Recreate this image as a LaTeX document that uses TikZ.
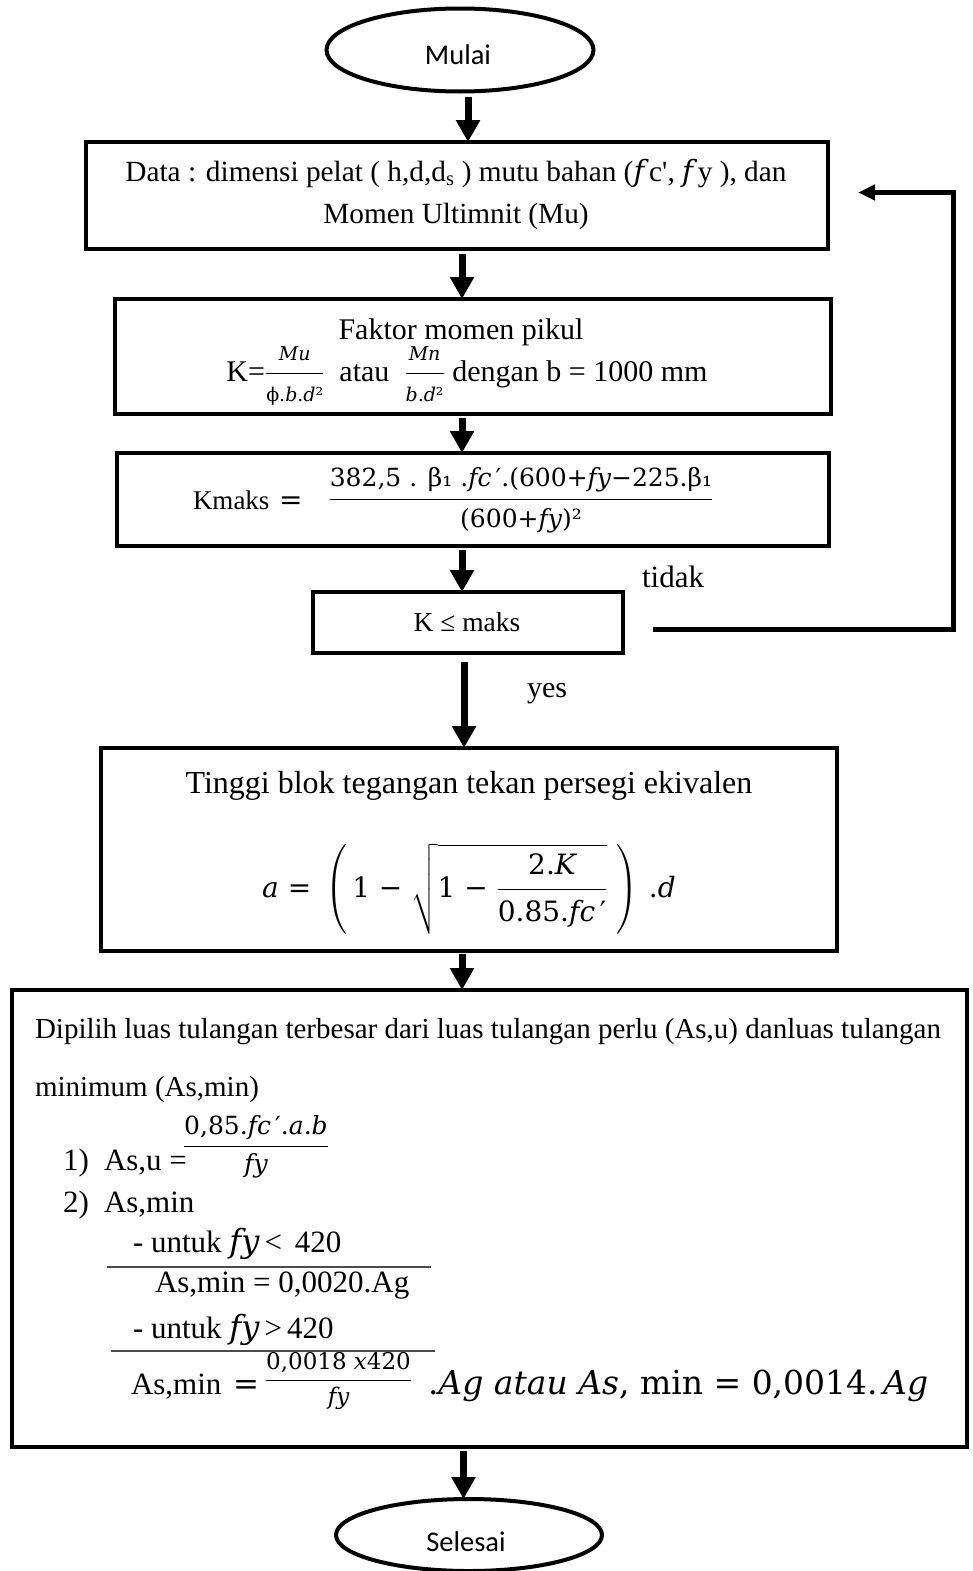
\RequirePackage{fix-cm}
\documentclass[tikz,border=0pt]{standalone}
\usepackage{amsmath}
\usepackage{fontspec}
\setmainfont{Liberation Serif}
\newfontfamily\calib{Carlito}
\newfontfamily\cmb{DejaVu Serif}
\usetikzlibrary{arrows.meta,shapes.geometric,calc}
\newcommand{\fsz}[1]{\fontsize{#1}{#1}\selectfont}
\newcommand{\iv}[1]{{\cmb\itshape #1}}
\newcommand{\hb}[2]{\hbox{\fsz{#1}\cmb #2}}
\begin{document}
\begin{tikzpicture}[x=1pt,y=-1pt,
  every node/.style={inner sep=0pt,outer sep=0pt},
  pbox/.style={draw,line width=4.5pt,rectangle},
  term/.style={draw,ellipse,line width=4pt},
  ttxt/.style={font=\calib\fsz{28.5}},
  flow/.style={line width=7pt,-{Triangle[width=23pt,length=22pt]}},
  back/.style={line width=5pt,-{Triangle[width=15pt,length=17pt]}},
  txt/.style={font=\fsz{29.3}},
  itxt/.style={font=\fsz{31}},
  uline/.style={line width=1.6pt,black!70}
]
\useasboundingbox (0,0) rectangle (972,1571);

% terminals
\node[term,minimum width=267pt,minimum height=83pt] (mulai) at (460,50) {};
\node[ttxt] (mulaiT) at (458,55) {Mulai};
\node[term,minimum width=266pt,minimum height=72pt] (selesai) at (469,1535) {};
\node[ttxt] (selesaiT) at (466,1542) {Selesai};

% boxes
\node[pbox,minimum width=742pt,minimum height=107pt] (box1) at (457,195.5) {};
\node[pbox,minimum width=716pt,minimum height=115pt] (box2) at (473,356.5) {};
\node[pbox,minimum width=712pt,minimum height=93pt] (box3) at (473,499.5) {};
\node[pbox,minimum width=310pt,minimum height=61pt] (box4) at (468,622.5) {};
\node[pbox,minimum width=736pt,minimum height=203pt] (box5) at (469,849.5) {};
\node[pbox,minimum width=955pt,minimum height=457pt] (box6) at (489.5,1218.5) {};

% box1 text
\node[txt,anchor=base] (b1a) at (456,181) {Data : dimensi pelat ( h,d,d\textsubscript{s} ) mutu bahan (\iv{f}\,c\textquotesingle, \iv{f}\,y ), dan};
\node[txt,anchor=base] (b1b) at (456,223) {Momen Ultimnit (Mu)};

% box2 text
\node[font=\fsz{30},anchor=base] (b2a) at (461,339) {Faktor momen pikul};
\node[font=\fsz{30},anchor=base] (b2b) at (467,381) {K=\(\dfrac{\hb{19}{\iv{Mu}}}{\hb{19}{ϕ.\iv{b}.\iv{d}²}}\)\enspace atau\enspace \(\dfrac{\hb{19}{\iv{Mn}}}{\hb{19}{\iv{b}.\iv{d}²}}\) dengan b = 1000 mm};

% box3 text
\node[font=\fsz{27},anchor=base west] (b3k) at (193,509) {Kmaks};
\node[anchor=base west] (b3e) at (279,509) {\hb{28}{=}};
\node[font=\fsz{30}] (b3f) at (521,500) {\(\dfrac{\hb{25}{382,5 . β₁ .\iv{fc}\,′.(600+\iv{fy}−225.β₁}}{\hb{25}{(600+\iv{fy})²}}\)};

% box4 text
\node[font=\fsz{27.5}] (b4) at (467,622) {K ≤ maks};

% labels
\node[font=\fsz{31},anchor=base] (tidak) at (673,587) {tidak};
\node[font=\fsz{30},anchor=base] (yes) at (547,697) {yes};

% box5 text
\node[font=\fsz{32},anchor=base] (b5a) at (469,793) {Tinggi blok tegangan tekan persegi ekivalen};
\node[font=\fsz{34}] (b5b) at (469,889) {\(\hb{28}{\iv{a} = }\left(\hb{28}{\,1 − }\sqrt{\hb{28}{1 − }\dfrac{\hb{28}{2.\iv{K}}}{\hb{28}{0.85.\iv{fc}\,′}}}\;\right)\hb{28}{\,.\iv{d}}\)};

% box6 text
\node[font=\fsz{29},anchor=base west] (b6a) at (35,1038) {Dipilih luas tulangan terbesar dari luas tulangan perlu (As,u) danluas tulangan};
\node[font=\fsz{29},anchor=base west] (b6b) at (35,1096) {minimum (As,min)};
\node[itxt,anchor=base west] (i1) at (63,1170) {1)};
\node[itxt,anchor=base west] (i1a) at (104,1170) {As,u =};
\node[font=\fsz{28},anchor=west] (i1f) at (183,1147) {\(\dfrac{\hb{25}{0,85.\iv{fc}\,′.\iv{a}.\iv{b}}}{\hb{25}{\iv{fy}}}\)};
\node[itxt,anchor=base west] (i2) at (63,1212) {2)};
\node[itxt,anchor=base west] (i2a) at (104,1212) {As,min};
\node[itxt,anchor=base west] (u1) at (133,1252) {- untuk {\fsz{32}\iv{fy}}\,<\, 420};
\node[itxt,anchor=base west] (u1r) at (155,1292) {As,min = 0,0020.Ag};
\node[itxt,anchor=base west] (u2) at (133,1338) {- untuk {\fsz{32}\iv{fy}}\,>\,420};
\node[itxt,anchor=base west] (u2r) at (131,1394) {As,min};
\node[anchor=base west] (u2e) at (233,1394) {\hb{31}{=}};
\node[font=\fsz{26},anchor=west] (u2f) at (265,1381) {\(\dfrac{\hb{23}{0,0018 \iv{x}420}}{\hb{23}{\iv{fy}}}\)};
\node[anchor=base west] (u2g) at (428,1394) {\hb{33}{.\iv{Ag atau As}, min = 0,0014.\,\iv{Ag}}};
\draw[uline] (107,1267) -- (431,1267);
\draw[uline] (111,1351) -- (435,1351);

% connectors
\coordinate (a1s) at ($(mulai.south)+(8,5)$);
\draw[flow] (a1s) -- (a1s |- box1.north);
\coordinate (a2s) at ($(box1.south)+(5,5)$);
\draw[flow] (a2s) -- (a2s |- box2.north);
\coordinate (a3s) at ($(box2.south)+(-11,4)$);
\draw[flow] (a3s) -- (a3s |- box3.north);
\coordinate (a4s) at ($(box3.south)+(-11,4)$);
\draw[flow] (a4s) -- (a4s |- box4.north);
\coordinate (a5s) at ($(box4.south)+(-4,9)$);
\draw[flow] (a5s) -- (a5s |- box5.north);
\coordinate (a6s) at ($(box5.south)+(-7,3)$);
\draw[flow] (a6s) -- (a6s |- box6.north);
\coordinate (a7s) at ($(box6.south)+(-26,4)$);
\draw[flow] (a7s) -- (a7s |- selesai.north);

% feedback
\coordinate (fbs) at ($(box4.east)+(30,7)$);
\coordinate (fbe) at ($(box1.east)+(30,-3)$);
\draw[back] (fbs) -- ++(300,0) |- (fbe);
\end{tikzpicture}
\end{document}
